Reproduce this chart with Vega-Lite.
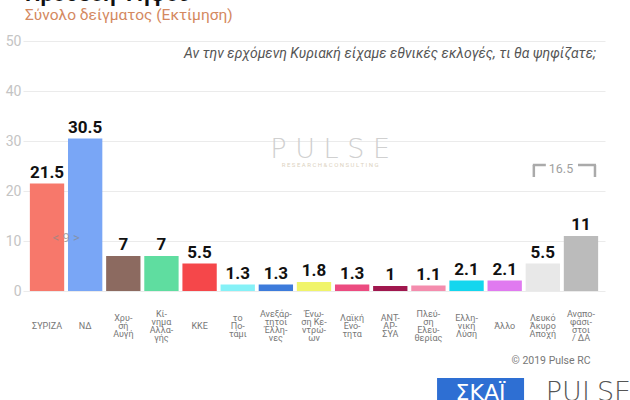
{
  "$schema": "https://vega.github.io/schema/vega-lite/v6.json",
  "autosize": {"type": "none"},
  "width": 582,
  "height": 250,
  "padding": {"left": 23, "top": 41, "right": 25, "bottom": 109},
  "background": "white",
  "title": {
    "text": "Πρόθεση Ψήφου",
    "subtitle": "Σύνολο δείγματος   (Εκτίμηση)",
    "anchor": "start",
    "frame": "group",
    "dx": 2,
    "offset": 10,
    "font": "Roboto",
    "fontSize": 22,
    "fontWeight": "bold",
    "color": "#111111",
    "subtitleFont": "Roboto",
    "subtitleFontSize": 15.5,
    "subtitleColor": "#D4895F",
    "subtitlePadding": 2
  },
  "config": {"view": {"stroke": null}, "font": "Roboto"},
  "datasets": {
    "votes": [
      {"party": "ΣΥΡΙΖΑ", "value": 21.5},
      {"party": "ΝΔ", "value": 30.5},
      {"party": "Χρυ-|σή|Αυγή", "value": 7},
      {"party": "Κί-|νημα|Αλλα-|γής", "value": 7},
      {"party": "ΚΚΕ", "value": 5.5},
      {"party": "το|Πο-|τάμι", "value": 1.3},
      {"party": "Ανεξάρ-|τητοι|Έλλη-|νες", "value": 1.3},
      {"party": "Ένω-|ση Κε-|ντρώ-|ων", "value": 1.8},
      {"party": "Λαϊκή|Ενό-|τητα", "value": 1.3},
      {"party": "ΑΝΤ-|ΑΡ-|ΣΥΑ", "value": 1},
      {"party": "Πλεύ-|ση|Ελευ-|θερίας", "value": 1.1},
      {"party": "Ελλη-|νική|Λύση", "value": 2.1},
      {"party": "Άλλο", "value": 2.1},
      {"party": "Λευκό|Άκυρο|Αποχή", "value": 5.5},
      {"party": "Αναπο-|φάσι-|στοι|/ ΔΑ", "value": 11}
    ]
  },
  "encoding": {
    "x": {
      "field": "party",
      "type": "nominal",
      "sort": null,
      "scale": {
        "domain": ["ΣΥΡΙΖΑ", "ΝΔ", "Χρυ-|σή|Αυγή", "Κί-|νημα|Αλλα-|γής", "ΚΚΕ", "το|Πο-|τάμι", "Ανεξάρ-|τητοι|Έλλη-|νες", "Ένω-|ση Κε-|ντρώ-|ων", "Λαϊκή|Ενό-|τητα", "ΑΝΤ-|ΑΡ-|ΣΥΑ", "Πλεύ-|ση|Ελευ-|θερίας", "Ελλη-|νική|Λύση", "Άλλο", "Λευκό|Άκυρο|Αποχή", "Αναπο-|φάσι-|στοι|/ ΔΑ"],
        "paddingInner": 0.1,
        "paddingOuter": 0.18
      },
      "axis": {
        "title": "© 2019 Pulse RC",
        "titleAnchor": "end",
        "titleAlign": "right",
        "titleBaseline": "middle",
        "titleX": 567,
        "titleY": 69,
        "titleFont": "Roboto",
        "titleFontSize": 10.5,
        "titleFontWeight": "normal",
        "titleColor": "#777777",
        "labelExpr": "length(split(datum.label, '|')) == 1 ? ['', datum.label] : split(datum.label, '|')",
        "labelAngle": 0,
        "labelFont": "Roboto",
        "labelFontSize": 9,
        "labelColor": "#777777",
        "labelLineHeight": 8.3,
        "labelBaseline": {"condition": {"test": "length(split(datum.value, '|')) == 4", "value": "middle"}, "value": "top"},
        "labelPadding": 22,
        "labelOverlap": false,
        "labelBound": false,
        "labelLimit": 0,
        "ticks": false,
        "domain": false,
        "grid": false
      }
    },
    "y": {
      "field": "value",
      "type": "quantitative",
      "scale": {"domain": [0, 50], "nice": false},
      "axis": {
        "title": null,
        "values": [0, 10, 20, 30, 40, 50],
        "grid": true,
        "gridColor": "#EBEBEB",
        "domain": false,
        "ticks": false,
        "labelColor": "#C4C4C4",
        "labelFont": "Roboto",
        "labelFontSize": 14,
        "labelPadding": 2
      }
    }
  },
  "layer": [
    {
      "data": {"name": "votes"},
      "mark": {"type": "bar"},
      "encoding": {
        "color": {
          "field": "party",
          "type": "nominal",
          "legend": null,
          "scale": {
            "domain": ["ΣΥΡΙΖΑ", "ΝΔ", "Χρυ-|σή|Αυγή", "Κί-|νημα|Αλλα-|γής", "ΚΚΕ", "το|Πο-|τάμι", "Ανεξάρ-|τητοι|Έλλη-|νες", "Ένω-|ση Κε-|ντρώ-|ων", "Λαϊκή|Ενό-|τητα", "ΑΝΤ-|ΑΡ-|ΣΥΑ", "Πλεύ-|ση|Ελευ-|θερίας", "Ελλη-|νική|Λύση", "Άλλο", "Λευκό|Άκυρο|Αποχή", "Αναπο-|φάσι-|στοι|/ ΔΑ"],
            "range": ["#F7786B", "#79A6F6", "#8C6A60", "#5FDDA0", "#F5474A", "#85F1F7", "#3D7BDB", "#F0F46A", "#EC4B80", "#A0174E", "#F48CAD", "#14D6EE", "#E07AF0", "#E8E8E8", "#BBBBBB"]
          }
        }
      }
    },
    {
      "data": {"name": "votes"},
      "mark": {"type": "text", "baseline": "alphabetic", "dy": -6, "font": "Roboto", "fontSize": 17, "fontWeight": "bold", "color": "#111111"},
      "encoding": {"text": {"field": "value", "type": "quantitative"}}
    },
    {
      "data": {"values": [{"party": "ΝΔ", "value": 10.6, "t": "< 9 >"}]},
      "mark": {"type": "text", "dx": -19, "baseline": "middle", "fontSize": 13, "color": "#8A8A8A", "opacity": 0.7},
      "encoding": {"text": {"field": "t"}}
    },
    {
      "data": {"values": [{"party": "Αναπο-|φάσι-|στοι|/ ΔΑ", "value": 47.5, "t": "Αν την ερχόμενη Κυριακή είχαμε εθνικές εκλογές, τι θα ψηφίζατε;"}]},
      "mark": {"type": "text", "align": "right", "baseline": "middle", "dx": 15, "fontSize": 14, "fontStyle": "italic", "color": "#555555"},
      "encoding": {"text": {"field": "t"}}
    },
    {
      "data": {"values": [{"party": "Λαϊκή|Ενό-|τητα", "value": 28.2, "t": "P U L S E"}]},
      "mark": {"type": "text", "dx": -22, "baseline": "middle", "font": "DejaVu Sans", "fontWeight": 200, "fontSize": 27, "color": "#D0D0D0"},
      "encoding": {"text": {"field": "t"}}
    },
    {
      "data": {"values": [{"party": "Λαϊκή|Ενό-|τητα", "value": 25.2, "t": "R E S E A R C H  &  C O N S U L T I N G"}]},
      "mark": {"type": "text", "dx": -22, "baseline": "middle", "fontSize": 6, "color": "#DCD2C0"},
      "encoding": {"text": {"field": "t"}}
    },
    {
      "data": {"values": [{"party": "Λευκό|Άκυρο|Αποχή", "value": 25.2}]},
      "mark": {"type": "rule", "xOffset": -10, "x2Offset": 3, "strokeWidth": 2.5, "color": "#AAAAAA"},
      "encoding": {"x2": {"field": "party"}}
    },
    {
      "data": {"values": [{"party": "Λευκό|Άκυρο|Αποχή", "value": 25.2, "low": 22.8}]},
      "mark": {"type": "rule", "xOffset": -9, "strokeWidth": 2.5, "color": "#AAAAAA"},
      "encoding": {"y2": {"field": "low"}}
    },
    {
      "data": {"values": [{"party": "Αναπο-|φάσι-|στοι|/ ΔΑ", "value": 25.2}]},
      "mark": {"type": "rule", "xOffset": -3, "x2Offset": 15, "strokeWidth": 2.5, "color": "#AAAAAA"},
      "encoding": {"x2": {"field": "party"}}
    },
    {
      "data": {"values": [{"party": "Αναπο-|φάσι-|στοι|/ ΔΑ", "value": 25.2, "low": 22.8}]},
      "mark": {"type": "rule", "xOffset": 14, "strokeWidth": 2.5, "color": "#AAAAAA"},
      "encoding": {"y2": {"field": "low"}}
    },
    {
      "data": {"values": [{"party": "Αναπο-|φάσι-|στοι|/ ΔΑ", "value": 24.4, "t": "16.5"}]},
      "mark": {"type": "text", "dx": -20, "baseline": "middle", "fontSize": 12.5, "color": "#A0A0A0"},
      "encoding": {"text": {"field": "t"}}
    },
    {
      "data": {"values": [{"party": "Ελλη-|νική|Λύση", "value": -17.4, "low": -24}]},
      "mark": {"type": "bar", "color": "#2E6FD3", "width": 87, "xOffset": 14},
      "encoding": {"y2": {"field": "low"}}
    },
    {
      "data": {"values": [{"party": "Ελλη-|νική|Λύση", "value": -20.4, "t": "ΣΚΑΪ"}]},
      "mark": {"type": "text", "dx": 14, "baseline": "middle", "font": "DejaVu Sans", "fontSize": 22, "color": "white"},
      "encoding": {"text": {"field": "t"}}
    },
    {
      "data": {"values": [{"party": "Λευκό|Άκυρο|Αποχή", "value": -20.4, "t": "PULSE"}]},
      "mark": {"type": "text", "dx": 3, "align": "left", "baseline": "middle", "font": "DejaVu Sans", "fontWeight": 200, "fontSize": 27, "color": "#555555"},
      "encoding": {"text": {"field": "t"}}
    }
  ]
}
